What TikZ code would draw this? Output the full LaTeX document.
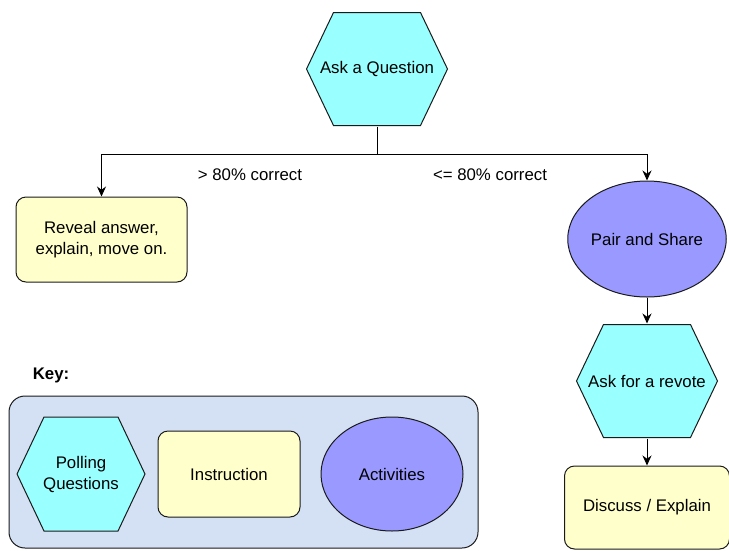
\documentclass[tikz,border=0pt]{standalone}
\usepackage{fontspec}
\setmainfont{Liberation Sans}
\usetikzlibrary{arrows.meta,positioning,shapes.geometric}
\definecolor{ink}{HTML}{1A1A1A}
\definecolor{poll}{HTML}{99FFFF}
\definecolor{note}{HTML}{FFFFCC}
\definecolor{task}{HTML}{9999FF}
\definecolor{keybg}{HTML}{D4E1F5}
\begin{document}
\begin{tikzpicture}[x=1pt,y=-1pt,>={Stealth[length=10pt,width=9pt]},line width=1pt,
 every node/.style={font=\fontsize{16.8}{21}\selectfont},
 h/.style={align=center,inner sep=0pt,minimum width=142pt,minimum height=114pt,
 path picture={\draw[ink,fill=poll]
 ([xshift=.5pt]path picture bounding box.west)
 --([xshift=27.5pt,yshift=-.5pt]path picture bounding box.north west)
 --([xshift=-27.5pt,yshift=-.5pt]path picture bounding box.north east)
 --([xshift=-.5pt]path picture bounding box.east)
 --([xshift=-27.5pt,yshift=.5pt]path picture bounding box.south east)
 --([xshift=27.5pt,yshift=.5pt]path picture bounding box.south west)--cycle;}},
 r/.style={draw=ink,rounded corners=10pt,fill=note,align=center,
 minimum width=171pt,minimum height=85pt},
 e/.style={ellipse,draw=ink,fill=task,align=center,minimum width=142pt,
 minimum height=116pt,inner sep=0pt}]
\useasboundingbox (0,0) rectangle (729,550);
\node[h] (ask) at (377,69) {Ask a Question};
\node[r] (reveal) at (101.5,239.5) {Reveal answer,\\explain, move on.};
\node[e] (pair) at (647,239) {Pair and Share};
\node[h,below=26pt of pair] (revote) {Ask for a revote};
\node[r,minimum width=165pt,minimum height=83pt,below=27pt of revote] (discuss) {Discuss / Explain};
\coordinate (split) at (377,154);
\draw (ask.south)--(split);
\draw[->] (split)-|(reveal.north); \draw[->] (split)-|(pair.north);
\draw[->] (pair)--(revote); \draw[->] (revote)--(discuss);
\node (over) at (250,175) {> 80\% correct};
\node (under) at (490,175) {<= 80\% correct};
\node[font=\bfseries\fontsize{16.8}{21}\selectfont] (keytitle) at (51,375) {Key:};
\node[draw=ink,fill=keybg,rounded corners=16pt,minimum width=469pt,minimum height=152pt] (keybox) at (243.5,472) {};
\node[h,minimum width=129pt,minimum height=115pt] (kpoll) at (81,474) {Polling\\Questions};
\node[r,minimum width=142pt,minimum height=86pt] (kinst) at (229,474) {Instruction};
\node[e,minimum height=114pt] (kact) at (392,474) {Activities};
\end{tikzpicture}
\end{document}
